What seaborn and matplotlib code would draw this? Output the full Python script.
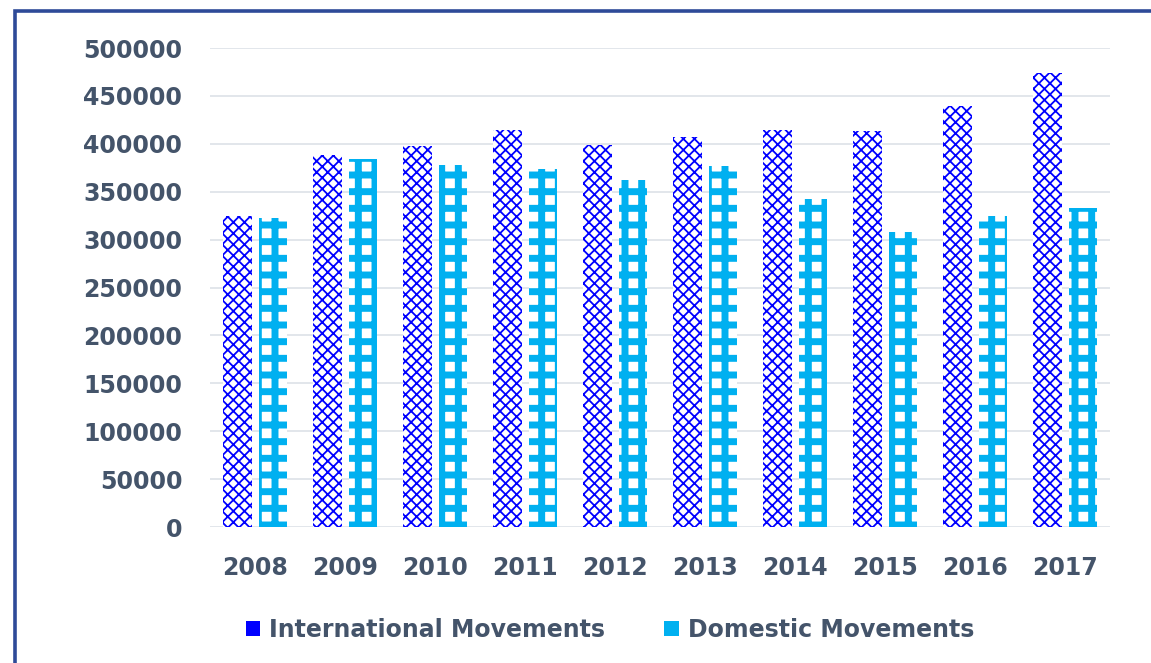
import numpy as np
import pandas as pd
import seaborn as sns
from matplotlib import pyplot as plt
from matplotlib.patches import Rectangle, Patch

years = ['2008', '2009', '2010', '2011', '2012', '2013', '2014', '2015', '2016', '2017']
international = [325000, 388000, 398000, 414000, 399000, 407000, 414000, 413000, 439000, 474000]
domestic = [323000, 384000, 378000, 374000, 362000, 377000, 342000, 308000, 325000, 333000]
series = ['International Movements', 'Domestic Movements']
yticks = [0, 50000, 100000, 150000, 200000, 250000, 300000, 350000, 400000, 450000, 500000]

text_col = '#44546A'
colours = {'International Movements': '#0000FF', 'Domestic Movements': '#00B0F0'}
hatches = {'International Movements': 'xxx', 'Domestic Movements': '+'}
hatch_lw = {'International Movements': 1.3, 'Domestic Movements': 5.0}

df = pd.DataFrame({
    'year': years * 2,
    'value': international + domestic,
    'series': [series[0]] * len(years) + [series[1]] * len(years),
})

sns.set_style('white')
plt.rcParams['font.family'] = ['DejaVu Sans']

fig = plt.figure(figsize=(11.51, 6.63), dpi=100)
ax = fig.add_axes([0.1825, 0.2051, 0.7819, 0.7225])

sns.barplot(ax=ax, data=df, x='year', y='value', hue='series', hue_order=series,
            palette=['white', 'white'], width=0.78, gap=0.2, legend=False, zorder=3)

for container, name in zip(ax.containers, series):
    for bar in container:
        bar.set_facecolor('white')
        bar.set_edgecolor(colours[name])
        bar.set_hatch(hatches[name])
        bar.set_linewidth(0)
        if hasattr(bar, 'set_hatch_linewidth'):
            bar.set_hatch_linewidth(hatch_lw[name])

ax.set_ylim(0, 500000)
ax.set_yticks(yticks)
ax.set_yticklabels([str(v) for v in yticks])
ax.set_xlim(-0.5, len(years) - 0.5)
ax.yaxis.grid(True, color='#DDE1E8', linewidth=1.2, zorder=0)
ax.xaxis.grid(False)
ax.set_axisbelow(True)
for s in ax.spines.values():
    s.set_visible(False)
ax.set_xlabel('')
ax.set_ylabel('')
ax.tick_params(axis='y', length=0, pad=20, labelsize=17, labelcolor=text_col)
ax.tick_params(axis='x', length=0, pad=21, labelsize=17, labelcolor=text_col)
for lab in ax.get_xticklabels() + ax.get_yticklabels():
    lab.set_fontweight('bold')

handles = []
for name in series:
    h = Patch(facecolor=colours[name], edgecolor=colours[name], linewidth=0)
    handles.append(h)
leg = fig.legend(handles, series, loc='center', bbox_to_anchor=(0.53, 0.05), ncol=2, frameon=False,
                 handlelength=0.6, handleheight=0.6, handletextpad=0.4, columnspacing=2.5,
                 prop={'size': 17, 'weight': 'bold'})
for t in leg.get_texts():
    t.set_color(text_col)

# frame of the original slide (only top and left edges visible)
fig.patches.append(Rectangle((15 / 1151, -0.1), 1.2, 0.1 + 1 - 11.5 / 663, transform=fig.transFigure,
                             fill=False, edgecolor='#2E4A98', linewidth=2.6, zorder=10))

plt.savefig('out.png', dpi=100)
